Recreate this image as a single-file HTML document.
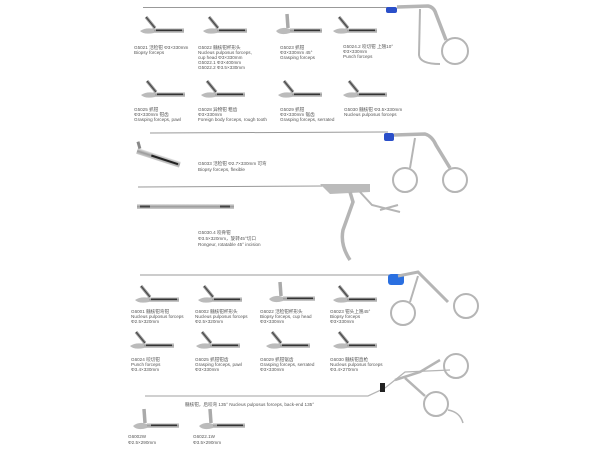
<!DOCTYPE html>
<html><head><meta charset="utf-8"><style>
html,body{margin:0;padding:0;background:#fff;}
svg{display:block}
text{font-family:"Liberation Sans","Noto Sans CJK SC",sans-serif;font-size:4.6px;fill:#555;}
</style></head><body>
<svg width="600" height="450" viewBox="0 0 600 450" xmlns="http://www.w3.org/2000/svg">
<defs>
<linearGradient id="m" x1="0" y1="0" x2="0" y2="1">
<stop offset="0" stop-color="#e8e8e8"/><stop offset="0.5" stop-color="#9a9a9a"/><stop offset="1" stop-color="#d0d0d0"/></linearGradient>
<g id="h">
<rect x="0" y="0" width="32" height="5" fill="url(#m)"/>
<rect x="4" y="1.5" width="26" height="1.6" fill="#333"/>
<path d="M3 0 L-6 -11" stroke="#999" stroke-width="3.2"/>
<path d="M3 0 L-6 -11" stroke="#444" stroke-width="1"/>
<path d="M-12 3 Q-6 -1 2 1 L2 5 Q-8 7 -12 3Z" fill="#bbb"/>
</g>
<g id="hv">
<rect x="0" y="0" width="32" height="5" fill="url(#m)"/>
<rect x="4" y="1.5" width="26" height="1.6" fill="#333"/>
<path d="M-2 0 L-3 -14" stroke="#aaa" stroke-width="3.5"/>
<path d="M-14 3 Q-8 -2 0 1 L0 5 Q-10 8 -14 3Z" fill="#bbb"/>
</g>
</defs>

<!-- top instrument 1 -->
<line x1="143" y1="7.5" x2="392" y2="7.5" stroke="#999" stroke-width="1"/>
<rect x="386" y="7" width="11" height="6" rx="2" fill="#2a4fc9"/>
<path d="M397 7 L428 6 Q434 7 436 14 L446 40" stroke="#b5b5b5" stroke-width="3.5" fill="none"/>
<path d="M420 9 L419 55 Q420 64 440 64" stroke="#b5b5b5" stroke-width="2" fill="none"/>
<circle cx="455" cy="51" r="13" fill="none" stroke="#b5b5b5" stroke-width="2"/>

<use href="#h" x="152" y="28"/>
<use href="#h" x="215" y="28"/>
<use href="#hv" x="290" y="28"/>
<use href="#h" x="345" y="28"/>
<use href="#h" x="153" y="92"/>
<use href="#h" x="213" y="92"/>
<use href="#h" x="290" y="92"/>
<use href="#h" x="355" y="92"/>

<text x="134" y="49">G5021 活检钳 Φ3×330mm</text>
<text x="134" y="54">Biopsy forceps</text>
<text x="198" y="49">G5022 髓核钳杯形头</text>
<text x="198" y="54">Nucleus pulposus forceps,</text>
<text x="198" y="59">cup head Φ3×330mm</text>
<text x="198" y="64">G5022.1 Φ3×400mm</text>
<text x="198" y="69">G5022.2 Φ3.5×330mm</text>
<text x="280" y="49">G5023 抓钳</text>
<text x="280" y="54">Φ3×330mm 45°</text>
<text x="280" y="59">Grasping forceps</text>
<text x="343" y="48">G5024.2 咬切钳 上翘10°</text>
<text x="343" y="53">Φ3×330mm</text>
<text x="343" y="58">Punch forceps</text>
<text x="134" y="111">G5025 抓钳</text>
<text x="134" y="116">Φ3×330mm 钳齿</text>
<text x="134" y="121">Grasping forceps, pawl</text>
<text x="198" y="111">G5028 异物钳 粗齿</text>
<text x="198" y="116">Φ3×330mm</text>
<text x="198" y="121">Foreign body forceps, rough tooth</text>
<text x="280" y="111">G5029 抓钳</text>
<text x="280" y="116">Φ3×330mm 锯齿</text>
<text x="280" y="121">Grasping forceps, serrated</text>
<text x="344" y="111">G5030 髓核钳 Φ3.5×330mm</text>
<text x="344" y="116">Nucleus pulposus forceps</text>

<!-- instrument 2 -->
<line x1="150" y1="133" x2="388" y2="132" stroke="#999" stroke-width="1"/>
<rect x="384" y="133" width="10" height="8" rx="2" fill="#2a4fc9"/>
<path d="M394 135 L425 134 Q432 136 436 145 L450 168" stroke="#b5b5b5" stroke-width="3.5" fill="none"/>
<path d="M415 138 L410 168" stroke="#b5b5b5" stroke-width="2" fill="none"/>
<circle cx="405" cy="180" r="12" fill="none" stroke="#b5b5b5" stroke-width="2"/>
<circle cx="455" cy="180" r="12" fill="none" stroke="#b5b5b5" stroke-width="2"/>
<g transform="translate(138,148) rotate(18)">
<rect x="0" y="0" width="45" height="6" fill="url(#m)"/><rect x="15" y="2" width="28" height="2" fill="#222"/>
<path d="M2 0 L-2 -6" stroke="#888" stroke-width="3"/></g>
<text x="198" y="165">G5033 活检钳 Φ2.7×330mm 可弯</text>
<text x="198" y="171">Biopsy forceps, flexible</text>

<!-- rongeur -->
<line x1="138" y1="187" x2="325" y2="186" stroke="#999" stroke-width="1"/>
<path d="M320 184 L370 184 L370 192 L330 194 Z" fill="#bbb"/>
<path d="M350 192 L353 202 L343 230 Q340 245 350 260" stroke="#b5b5b5" stroke-width="3.5" fill="none"/>
<path d="M360 192 L372 205 L400 212 M380 210 L398 205" stroke="#b5b5b5" stroke-width="2" fill="none"/>
<rect x="137" y="204" width="97" height="5" fill="url(#m)"/>
<rect x="140" y="205.5" width="10" height="2" fill="#444"/><rect x="220" y="205.5" width="10" height="2" fill="#444"/>
<text x="198" y="234">G5030.4 咬骨钳</text>
<text x="198" y="240">Φ3.5×320mm，旋转45°切口</text>
<text x="198" y="246">Rongeur, rotatable 45° incision</text>

<!-- instrument 3 -->
<line x1="140" y1="275" x2="395" y2="275" stroke="#999" stroke-width="1"/>
<rect x="388" y="274" width="16" height="11" rx="3" fill="#2a6fe0"/>
<path d="M398 276 L418 272 L448 302" stroke="#b5b5b5" stroke-width="3" fill="none"/>
<path d="M418 276 L410 302" stroke="#b5b5b5" stroke-width="2" fill="none"/>
<circle cx="403" cy="313" r="12" fill="none" stroke="#b5b5b5" stroke-width="2"/>
<circle cx="466" cy="306" r="12" fill="none" stroke="#b5b5b5" stroke-width="2"/>

<use href="#h" x="147" y="297"/>
<use href="#h" x="210" y="297"/>
<use href="#hv" x="283" y="296"/>
<use href="#h" x="345" y="297"/>
<use href="#h" x="142" y="343"/>
<use href="#h" x="208" y="343"/>
<use href="#h" x="278" y="343"/>
<use href="#h" x="345" y="343"/>

<text x="131" y="313">G6001 髓核钳弯钳</text>
<text x="131" y="318">Nucleus pulposus forceps</text>
<text x="131" y="323">Φ2.5×320mm</text>
<text x="195" y="313">G6002 髓核钳杯形头</text>
<text x="195" y="318">Nucleus pulposus forceps</text>
<text x="195" y="323">Φ2.5×320mm</text>
<text x="260" y="313">G6022 活检钳杯形头</text>
<text x="260" y="318">Biopsy forceps, cup head</text>
<text x="260" y="323">Φ3×330mm</text>
<text x="330" y="313">G6023 钳头上翘45°</text>
<text x="330" y="318">Biopsy forceps</text>
<text x="330" y="323">Φ3×330mm</text>
<text x="131" y="361">G6024 咬切钳</text>
<text x="131" y="366">Punch forceps</text>
<text x="131" y="371">Φ3.4×330mm</text>
<text x="195" y="361">G6025 抓钳钳齿</text>
<text x="195" y="366">Grasping forceps, pawl</text>
<text x="195" y="371">Φ3×330mm</text>
<text x="260" y="361">G6029 抓钳锯齿</text>
<text x="260" y="366">Grasping forceps, serrated</text>
<text x="260" y="371">Φ3×330mm</text>
<text x="330" y="361">G6030 髓核钳直枪</text>
<text x="330" y="366">Nucleus pulposus forceps</text>
<text x="330" y="371">Φ3.4×270mm</text>

<!-- bottom instrument -->
<path d="M145 396 L368 396 L385 388 L405 372 L450 370" stroke="#b5b5b5" stroke-width="1.3" fill="none"/>
<path d="M395 380 L420 372 L440 360" stroke="#b5b5b5" stroke-width="2.5" fill="none"/>
<path d="M405 378 L425 396" stroke="#b5b5b5" stroke-width="2.5" fill="none"/>
<rect x="380" y="383" width="5" height="9" fill="#222"/>
<circle cx="456" cy="366" r="12" fill="none" stroke="#b5b5b5" stroke-width="2"/>
<circle cx="436" cy="404" r="12" fill="none" stroke="#b5b5b5" stroke-width="2"/>
<path d="M448 410 Q460 412 463 423" stroke="#b5b5b5" stroke-width="1.5" fill="none"/>
<text x="185" y="406">髓核钳，后咬弯 135° Nucleus pulposus forceps, back-end 135°</text>

<use href="#hv" x="147" y="423"/>
<use href="#hv" x="213" y="423"/>
<text x="128" y="438">G6002W</text>
<text x="128" y="444">Φ2.5×290mm</text>
<text x="193" y="438">G6022.1W</text>
<text x="193" y="444">Φ3.5×290mm</text>
</svg>
</body></html>
